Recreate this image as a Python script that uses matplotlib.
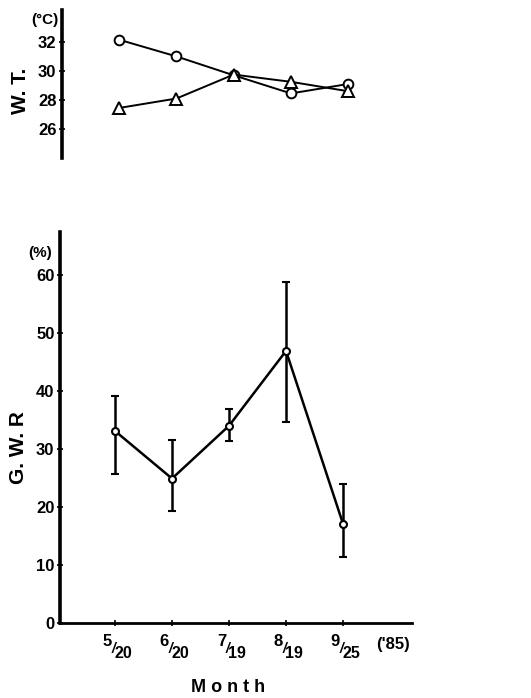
import numpy as np
import matplotlib.pyplot as plt

plt.rcParams['font.family'] = ['Liberation Sans', 'DejaVu Sans']

# data
dates = ["5/20", "6/20", "7/19", "8/19", "9/25"]
wt_circle = [32.15, 31.0, 29.7, 28.45, 29.1]
wt_triangle = [27.45, 28.1, 29.75, 29.25, 28.6]
gwr_mean = [33.1, 24.9, 34.0, 46.9, 17.1]
gwr_top = [39.1, 31.5, 36.9, 58.8, 24.0]
gwr_bottom = [25.7, 19.3, 31.4, 34.6, 11.4]
wt_ticks = [26, 28, 30, 32]
gwr_ticks = [0, 10, 20, 30, 40, 50, 60]

W, H = 531, 698
fig = plt.figure(figsize=(W / 100, H / 100), dpi=100)

def box(x0, y0, x1, y1):
    return [x0 / W, 1 - y1 / H, (x1 - x0) / W, (y1 - y0) / H]

x = np.arange(len(dates))

# ---- water temperature
ax1 = fig.add_axes(box(62, 10, 430, 158))
ax1.plot(x, wt_circle, color='k', lw=1.4, marker='o', ms=7,
         mfc='white', mec='k', mew=1.4)
ax1.plot(x, wt_triangle, color='k', lw=1.4, marker='^', ms=8,
         mfc='white', mec='k', mew=1.4)
ax1.set_xlim(-1.0, 5.43)
ax1.set_ylim(24.0, 34.2)
ax1.set_yticks(wt_ticks)
ax1.set_yticklabels([str(t) for t in wt_ticks], fontsize=12, fontweight='bold')
ax1.tick_params(axis='y', direction='inout', length=4, width=1.2, pad=2)
ax1.set_xticks([])
for s in ['top', 'right', 'bottom']:
    ax1.spines[s].set_visible(False)
ax1.spines['left'].set_linewidth(2.6)
ax1.patch.set_alpha(0)
fig.text(45 / W, 1 - 20 / H, "(°C)", fontsize=11, fontweight='bold',
         ha='center', va='center')
fig.text(21 / W, 1 - 91 / H, "W. T.", fontsize=15, fontweight='bold',
         rotation=90, ha='center', va='center')

# ---- G.W.R
ax2 = fig.add_axes(box(60, 232, 412, 623))
yerr = [np.array(gwr_mean) - np.array(gwr_bottom),
        np.array(gwr_top) - np.array(gwr_mean)]
ax2.errorbar(x, gwr_mean, yerr=yerr, color='k', lw=1.8, elinewidth=1.8,
             capsize=3, capthick=1.8, marker='o', ms=5, mfc='white',
             mec='k', mew=1.5)
ax2.set_xlim(-0.965, 5.21)
ax2.set_ylim(0, 67.4)
ax2.set_yticks(gwr_ticks)
ax2.set_yticklabels([str(t) for t in gwr_ticks], fontsize=12, fontweight='bold')
ax2.set_xticks(x)
ax2.set_xticklabels([])
ax2.tick_params(axis='y', direction='inout', length=4, width=1.2, pad=2)
ax2.tick_params(axis='x', direction='inout', length=4, width=1.2)
for s in ['top', 'right']:
    ax2.spines[s].set_visible(False)
ax2.spines['left'].set_linewidth(2.6)
ax2.spines['bottom'].set_linewidth(2.0)
ax2.patch.set_alpha(0)

# fraction style date labels
for xi, d in zip(x, dates):
    a, b = d.split("/")
    kw = dict(xy=(xi, 0), xycoords=('data', 'axes fraction'),
              textcoords='offset points', ha='center', va='center',
              fontweight='bold')
    ax2.annotate(a, xytext=(-5.5, -13.5), fontsize=12, **kw)
    ax2.annotate("/", xytext=(-1.0, -19.0), fontsize=10, style='italic', **kw)
    ax2.annotate(b, xytext=(6.0, -22.0), fontsize=11.5, **kw)

fig.text(40 / W, 1 - 253 / H, "(%)", fontsize=11, fontweight='bold',
         ha='center', va='center')
fig.text(18 / W, 1 - 448 / H, "G. W. R", fontsize=15, fontweight='bold',
         rotation=90, ha='center', va='center')
fig.text(393 / W, 1 - 645 / H, "('85)", fontsize=12, fontweight='bold',
         ha='center', va='center')
fig.text(228 / W, 1 - 688 / H, "M o n t h", fontsize=13, fontweight='bold',
         ha='center', va='center')

fig.savefig("out.png", dpi=100)
